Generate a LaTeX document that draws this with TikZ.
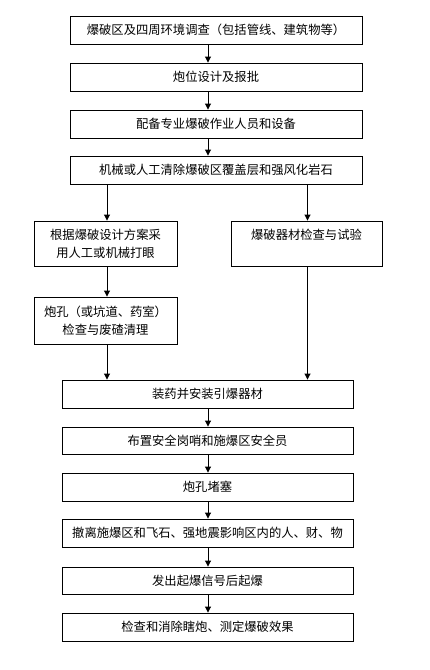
\documentclass[tikz,border=0pt]{standalone}
\usepackage{fontspec}
\newfontfamily\cjk{Noto Sans CJK SC}
\usetikzlibrary{arrows.meta}
\tikzset{
  box/.style={draw, line width=0.9pt, rectangle, inner sep=0pt, align=center, font=\fontsize{12.3}{18}\selectfont\cjk},
  wide/.style={box, minimum width=292pt, minimum height=28pt},
  arr/.style={line width=0.9pt, -{Triangle[length=6pt,width=6pt]}}
}
\begin{document}
\begin{tikzpicture}[x=1pt,y=-1pt]
\useasboundingbox (0,0) rectangle (429,670);
\node[wide] (b1) at (216,30) {爆破区及四周环境调查（包括管线、建筑物等）};
\node[wide] (b2) at (216,77) {炮位设计及报批};
\node[wide] (b3) at (216,124) {配备专业爆破作业人员和设备};
\node[wide] (b4) at (216,170) {机械或人工清除爆破区覆盖层和强风化岩石};
\node[box, minimum width=143pt, minimum height=45pt] (b5) at (105.5,243.5) {根据爆破设计方案采\\用人工或机械打眼};
\node[box, minimum width=151pt, minimum height=45pt] (b6) at (306.5,243.5) {};
\node[font=\fontsize{12.3}{18}\selectfont\cjk, inner sep=0pt] (b6t) at (306.5,235) {爆破器材检查与试验};
\node[box, minimum width=143pt, minimum height=47pt] (b7) at (105.5,320.5) {炮孔（或坑道、药室）\\检查与废碴清理};
\node[box, minimum width=291pt, minimum height=28pt] (b8) at (207.5,394) {装药并安装引爆器材};
\node[box, minimum width=291pt, minimum height=27pt] (b9) at (207.5,440.5) {布置安全岗哨和施爆区安全员};
\node[box, minimum width=291pt, minimum height=28pt] (b10) at (207.5,487) {炮孔堵塞};
\node[box, minimum width=291pt, minimum height=28pt] (b11) at (207.5,533) {撤离施爆区和飞石、强地震影响区内的人、财、物};
\node[box, minimum width=291pt, minimum height=27pt] (b12) at (207.5,580.5) {发出起爆信号后起爆};
\node[box, minimum width=291pt, minimum height=28pt] (b13) at (207.5,627) {检查和消除瞎炮、测定爆破效果};
\coordinate (ax) at (208,0);
\coordinate (lx) at (107,0);
\coordinate (rx) at (307.5,0);
\draw[arr] (b1.south -| ax) -- (b2.north -| ax);
\draw[arr] (b2.south -| ax) -- (b3.north -| ax);
\draw[arr] (b3.south -| ax) -- (b4.north -| ax);
\draw[arr] (b4.south -| lx) -- (b5.north -| lx);
\draw[arr] (b4.south -| rx) -- (b6.north -| rx);
\draw[arr] (b5.south -| lx) -- (b7.north -| lx);
\draw[arr] (b7.south -| lx) -- (b8.north -| lx);
\draw[arr] (b6.south -| rx) -- (b8.north -| rx);
\draw[arr] (b8.south -| ax) -- (b9.north -| ax);
\draw[arr] (b9.south -| ax) -- (b10.north -| ax);
\draw[arr] (b10.south -| ax) -- (b11.north -| ax);
\draw[arr] (b11.south -| ax) -- (b12.north -| ax);
\draw[arr] (b12.south -| ax) -- (b13.north -| ax);
\end{tikzpicture}
\end{document}
